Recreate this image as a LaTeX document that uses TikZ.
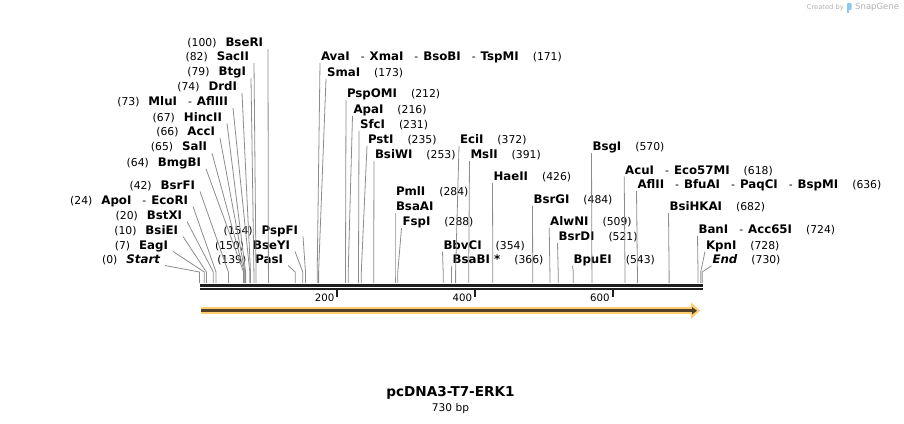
\documentclass[tikz,border=0pt]{standalone}
\usepackage{fontspec}
\setmainfont{DejaVu Sans}
\usepackage{tikz}
\usetikzlibrary{positioning,arrows.meta}

\definecolor{cutgray}{RGB}{140,140,140}
\definecolor{bardark}{RGB}{30,30,30}
\definecolor{glow}{RGB}{255,204,112}
\definecolor{featdark}{RGB}{80,65,40}
\definecolor{markgray}{RGB}{176,176,176}
\definecolor{logoblue}{RGB}{140,200,240}

\newcommand{\siteno}[1]{{\fontsize{10.8pt}{12pt}\selectfont(#1)}}
\newcommand{\enz}[1]{{\fontsize{11.8pt}{13pt}\selectfont\bfseries #1}}
\newcommand{\orr}{\hspace{11pt}{\fontsize{10.8pt}{12pt}\selectfont-}\hspace{5pt}}

\begin{document}
\begin{tikzpicture}[x=1pt,y=-1pt,
  lft/.style={anchor=east,inner sep=0,outer xsep=5pt,outer ysep=0,text height=8.5pt,text depth=2.5pt},
  rgt/.style={anchor=west,inner sep=0,outer xsep=1pt,outer ysep=0,text height=8.5pt,text depth=2.5pt},
  cut/.style={draw=cutgray,line width=0.8pt},
  ticklbl/.style={anchor=east,inner sep=0,font=\fontsize{10.2pt}{12pt}\selectfont}]
  \useasboundingbox (0,0) rectangle (904,423);

  % cut sites on the sequence
  \coordinate (s0) at (199.5,283);
  \coordinate (s7) at (204.3,283);
  \coordinate (s10) at (206.4,283);
  \coordinate (s20) at (213.3,283);
  \coordinate (s24) at (216.0,283);
  \coordinate (s42) at (228.4,283);
  \coordinate (s64) at (243.6,283);
  \coordinate (s65) at (244.3,283);
  \coordinate (s66) at (244.9,283);
  \coordinate (s67) at (245.6,283);
  \coordinate (s73) at (249.8,283);
  \coordinate (s74) at (250.5,283);
  \coordinate (s79) at (253.9,283);
  \coordinate (s82) at (256.0,283);
  \coordinate (s100) at (268.4,283);
  \coordinate (s139) at (295.2,283);
  \coordinate (s150) at (302.8,283);
  \coordinate (s154) at (305.5,283);
  \coordinate (s171) at (317.2,283);
  \coordinate (s173) at (318.6,283);
  \coordinate (s212) at (345.5,283);
  \coordinate (s216) at (348.2,283);
  \coordinate (s231) at (358.5,283);
  \coordinate (s235) at (361.3,283);
  \coordinate (s253) at (373.7,283);
  \coordinate (s284) at (395.0,283);
  \coordinate (s288) at (397.8,283);
  \coordinate (s354) at (443.2,283);
  \coordinate (s366) at (451.5,283);
  \coordinate (s372) at (455.6,283);
  \coordinate (s391) at (468.7,283);
  \coordinate (s426) at (492.8,283);
  \coordinate (s484) at (532.7,283);
  \coordinate (s509) at (549.9,283);
  \coordinate (s521) at (558.2,283);
  \coordinate (s543) at (573.3,283);
  \coordinate (s570) at (591.9,283);
  \coordinate (s618) at (625.0,283);
  \coordinate (s636) at (637.4,283);
  \coordinate (s682) at (669.1,283);
  \coordinate (s724) at (698.0,283);
  \coordinate (s728) at (700.7,283);
  \coordinate (s730) at (702.1,283);

  % labels on the left
  \node[lft] (bseri) at (268,43.7) {\siteno{100}\hspace{9pt}\enz{BseRI}};
  \node[lft] (sacii) at (254,57.7) {\siteno{82}\hspace{9pt}\enz{SacII}};
  \node[lft] (btgi) at (251,72.7) {\siteno{79}\hspace{9pt}\enz{BtgI}};
  \node[lft] (drdi) at (242,87.7) {\siteno{74}\hspace{9pt}\enz{DrdI}};
  \node[lft] (mlui) at (233,102.7) {\siteno{73}\hspace{9pt}\enz{MluI}\orr\enz{AflIII}};
  \node[lft] (hincii) at (227,118) {\siteno{67}\hspace{9pt}\enz{HincII}};
  \node[lft] (acci) at (220,132.7) {\siteno{66}\hspace{9pt}\enz{AccI}};
  \node[lft] (sali) at (212,147.7) {\siteno{65}\hspace{9pt}\enz{SalI}};
  \node[lft] (bmgbi) at (206,163.3) {\siteno{64}\hspace{9pt}\enz{BmgBI}};
  \node[lft] (bsrfi) at (200,186) {\siteno{42}\hspace{9pt}\enz{BsrFI}};
  \node[lft] (apoi) at (193,201) {\siteno{24}\hspace{9pt}\enz{ApoI}\orr\enz{EcoRI}};
  \node[lft] (bstxi) at (187,216) {\siteno{20}\hspace{9pt}\enz{BstXI}};
  \node[lft] (bsiei) at (183,231) {\siteno{10}\hspace{9pt}\enz{BsiEI}};
  \node[lft] (eagi) at (173,246) {\siteno{7}\hspace{9pt}\enz{EagI}};
  \node[lft] (start) at (165,260) {\siteno{0}\hspace{9pt}\enz{\itshape Start}};
  \node[lft] (pspfi) at (303,231) {\siteno{154}\hspace{9pt}\enz{PspFI}};
  \node[lft] (bseyi) at (295,246) {\siteno{150}\hspace{9pt}\enz{BseYI}};
  \node[lft] (pasi) at (288,260) {\siteno{139}\hspace{9pt}\enz{PasI}};

  % labels on the right
  \node[rgt] (avai) at (320,57.7) {\enz{AvaI}\orr\enz{XmaI}\orr\enz{BsoBI}\orr\enz{TspMI}\hspace{14pt}\siteno{171}};
  \node[rgt] (smai) at (326,73.3) {\enz{SmaI}\hspace{14pt}\siteno{173}};
  \node[rgt] (pspomi) at (346,94.3) {\enz{PspOMI}\hspace{14pt}\siteno{212}};
  \node[rgt] (apai) at (352.5,110.3) {\enz{ApaI}\hspace{14pt}\siteno{216}};
  \node[rgt] (sfci) at (359,125.3) {\enz{SfcI}\hspace{14pt}\siteno{231}};
  \node[rgt] (psti) at (367,140.3) {\enz{PstI}\hspace{14pt}\siteno{235}};
  \node[rgt] (bsiwi) at (374,155.3) {\enz{BsiWI}\hspace{14pt}\siteno{253}};
  \node[rgt] (ecii) at (459,140.3) {\enz{EciI}\hspace{14pt}\siteno{372}};
  \node[rgt] (msli) at (469.5,155.3) {\enz{MslI}\hspace{14pt}\siteno{391}};
  \node[rgt] (pmli) at (395,192.7) {\enz{PmlI}\hspace{14pt}\siteno{284}};
  \node[rgt] (bsaai) at (395,207.7) {\enz{BsaAI}};
  \node[rgt] (fspi) at (401.5,222.7) {\enz{FspI}\hspace{14pt}\siteno{288}};
  \node[rgt] (bbvci) at (442.5,246) {\enz{BbvCI}\hspace{14pt}\siteno{354}};
  \node[rgt] (bsabi) at (451.7,260.3) {\enz{BsaBI *}\hspace{14pt}\siteno{366}};
  \node[rgt] (haeii) at (492.5,177.7) {\enz{HaeII}\hspace{14pt}\siteno{426}};
  \node[rgt] (bsrgi) at (532.5,200.3) {\enz{BsrGI}\hspace{14pt}\siteno{484}};
  \node[rgt] (alwni) at (549.2,222.7) {\enz{AlwNI}\hspace{14pt}\siteno{509}};
  \node[rgt] (bsrdi) at (557.5,237.7) {\enz{BsrDI}\hspace{14pt}\siteno{521}};
  \node[rgt] (bpuei) at (572.5,260.3) {\enz{BpuEI}\hspace{14pt}\siteno{543}};
  \node[rgt] (bsgi) at (591.5,147.7) {\enz{BsgI}\hspace{14pt}\siteno{570}};
  \node[rgt] (acui) at (624.2,171) {\enz{AcuI}\orr\enz{Eco57MI}\hspace{14pt}\siteno{618}};
  \node[rgt] (aflii) at (636.5,185.3) {\enz{AflII}\orr\enz{BfuAI}\orr\enz{PaqCI}\orr\enz{BspMI}\hspace{14pt}\siteno{636}};
  \node[rgt] (bsihkai) at (668.5,207.7) {\enz{BsiHKAI}\hspace{14pt}\siteno{682}};
  \node[rgt] (bani) at (697.5,230.3) {\enz{BanI}\orr\enz{Acc65I}\hspace{14pt}\siteno{724}};
  \node[rgt] (kpni) at (705,246) {\enz{KpnI}\hspace{14pt}\siteno{728}};
  \node[rgt] (endl) at (711.5,260.3) {\enz{\itshape End}\hspace{14pt}\siteno{730}};

  % lines to the sites
  \draw[cut] (bseri.south east) -- ([yshift=11pt]s100) -- (s100);
  \draw[cut] (sacii.south east) -- ([yshift=11pt]s82) -- (s82);
  \draw[cut] (btgi.south east) -- ([yshift=11pt]s79) -- (s79);
  \draw[cut] (drdi.south east) -- ([yshift=11pt]s74) -- (s74);
  \draw[cut] (mlui.south east) -- ([yshift=11pt]s73) -- (s73);
  \draw[cut] (hincii.south east) -- ([yshift=11pt]s67) -- (s67);
  \draw[cut] (acci.south east) -- ([yshift=11pt]s66) -- (s66);
  \draw[cut] (sali.south east) -- ([yshift=11pt]s65) -- (s65);
  \draw[cut] (bmgbi.south east) -- ([yshift=11pt]s64) -- (s64);
  \draw[cut] (bsrfi.south east) -- ([yshift=11pt]s42) -- (s42);
  \draw[cut] (apoi.south east) -- ([yshift=11pt]s24) -- (s24);
  \draw[cut] (bstxi.south east) -- ([yshift=11pt]s20) -- (s20);
  \draw[cut] (bsiei.south east) -- ([yshift=11pt]s10) -- (s10);
  \draw[cut] (eagi.south east) -- ([yshift=11pt]s7) -- (s7);
  \draw[cut] (start.south east) -- ([yshift=11pt]s0) -- (s0);
  \draw[cut] (pspfi.south east) -- ([yshift=11pt]s154) -- (s154);
  \draw[cut] (bseyi.south east) -- ([yshift=11pt]s150) -- (s150);
  \draw[cut] (pasi.south east) -- ([yshift=11pt]s139) -- (s139);
  \draw[cut] (avai.south west) -- ([yshift=11pt]s171) -- (s171);
  \draw[cut] (smai.south west) -- ([yshift=11pt]s173) -- (s173);
  \draw[cut] (pspomi.south west) -- ([yshift=11pt]s212) -- (s212);
  \draw[cut] (apai.south west) -- ([yshift=11pt]s216) -- (s216);
  \draw[cut] (sfci.south west) -- ([yshift=11pt]s231) -- (s231);
  \draw[cut] (psti.south west) -- ([yshift=11pt]s235) -- (s235);
  \draw[cut] (bsiwi.south west) -- ([yshift=11pt]s253) -- (s253);
  \draw[cut] (ecii.south west) -- ([yshift=11pt]s372) -- (s372);
  \draw[cut] (msli.south west) -- ([yshift=11pt]s391) -- (s391);
  \draw[cut] (bsaai.south west) -- ([yshift=11pt]s284) -- (s284);
  \draw[cut] (fspi.south west) -- ([yshift=11pt]s288) -- (s288);
  \draw[cut] (bbvci.south west) -- ([yshift=11pt]s354) -- (s354);
  \draw[cut] (bsabi.south west) -- ([yshift=11pt]s366) -- (s366);
  \draw[cut] (haeii.south west) -- ([yshift=11pt]s426) -- (s426);
  \draw[cut] (bsrgi.south west) -- ([yshift=11pt]s484) -- (s484);
  \draw[cut] (alwni.south west) -- ([yshift=11pt]s509) -- (s509);
  \draw[cut] (bsrdi.south west) -- ([yshift=11pt]s521) -- (s521);
  \draw[cut] (bpuei.south west) -- ([yshift=11pt]s543) -- (s543);
  \draw[cut] (bsgi.south west) -- ([yshift=11pt]s570) -- (s570);
  \draw[cut] (acui.south west) -- ([yshift=11pt]s618) -- (s618);
  \draw[cut] (aflii.south west) -- ([yshift=11pt]s636) -- (s636);
  \draw[cut] (bsihkai.south west) -- ([yshift=11pt]s682) -- (s682);
  \draw[cut] (bani.south west) -- ([yshift=11pt]s724) -- (s724);
  \draw[cut] (kpni.south west) -- ([yshift=11pt]s728) -- (s728);
  \draw[cut] (endl.south west) -- ([yshift=11pt]s730) -- (s730);

  % the sequence, both strands
  \coordinate (top0) at (200,285.3);
  \coordinate (top1) at (703.3,285.3);
  \coordinate (bot0) at (200,289);
  \coordinate (bot1) at (703.3,289);
  \draw[bardark,line width=2.7pt] (top0) -- (top1);
  \draw[bardark,line width=2.7pt] (bot0) -- (bot1);

  % ruler
  \coordinate (t200) at (337.2,290);
  \coordinate (t400) at (474.9,290);
  \coordinate (t600) at (612.6,290);
  \draw[bardark,line width=2pt] (t200) -- ++(0,6.7);
  \draw[bardark,line width=2pt] (t400) -- ++(0,6.7);
  \draw[bardark,line width=2pt] (t600) -- ++(0,6.7);
  \node[ticklbl] (l200) at (334.5,297.5) {200};
  \node[ticklbl] (l400) at (472.2,297.5) {400};
  \node[ticklbl] (l600) at (609.9,297.5) {600};

  % feature arrow
  \coordinate (f0) at (201,310.7);
  \coordinate (f1) at (700,310.7);
  \coordinate (g1) at (697,310.7);
  \draw[glow,line width=7pt,-{Triangle[length=9pt,width=16pt]}] (f0) -- (f1);
  \draw[featdark,line width=2.8pt,-{Triangle[length=5pt,width=7pt]}] (f0) -- (g1);

  % title
  \node[inner sep=0,font=\fontsize{13.6pt}{15pt}\selectfont\bfseries] (title) at (450.5,393.2) {pcDNA3-T7-ERK1};
  \node[inner sep=0,font=\fontsize{10.6pt}{12pt}\selectfont] (size) [below=3.4pt of title] {730 bp};

  % watermark
  \node[anchor=west,inner sep=0,text=markgray,font=\fontsize{6.7pt}{8pt}\selectfont] (made) at (806.7,7.5) {Created by};
  \fill[logoblue,rounded corners=0.8pt] (847,3) rectangle (851.5,10);
  \fill[logoblue] (847,9) rectangle (849,12.5);
  \node[anchor=west,inner sep=0,text=markgray,font=\fontsize{8.5pt}{10pt}\selectfont] (brand) at (855,7.5) {SnapGene};
\end{tikzpicture}
\end{document}
